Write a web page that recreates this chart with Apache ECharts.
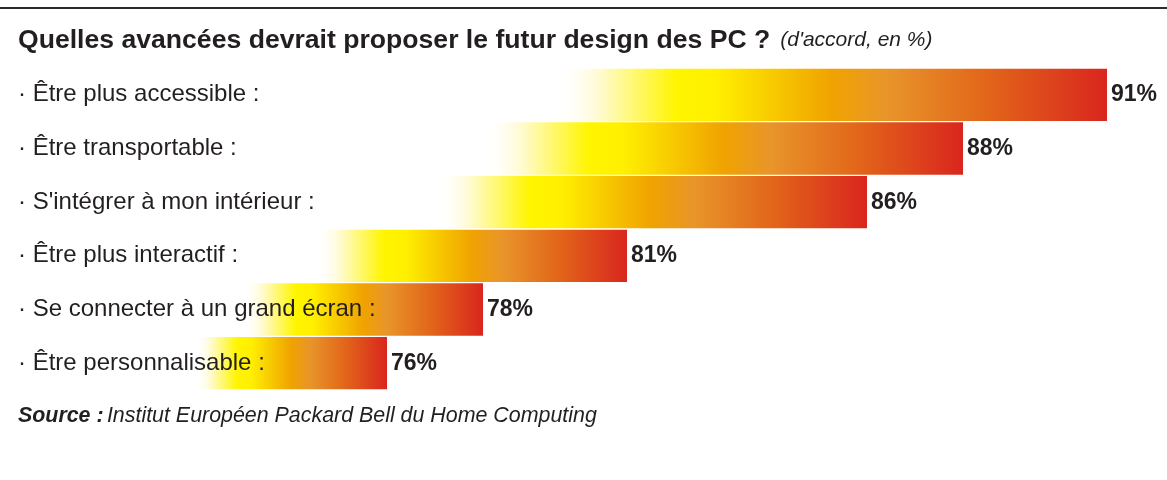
<!DOCTYPE html>
<html>
<head>
<meta charset="utf-8">
<script src="https://cdn.jsdelivr.net/npm/echarts@6/dist/echarts.min.js"></script>
<style>
html, body { margin: 0; padding: 0; background: #fff; }
#chart { width: 1167px; height: 480px; }
</style>
</head>
<body>
<div id="chart"></div>
<script>
// données
var categories = [
    '· Être plus accessible :',
    '· Être transportable :',
    "· S'intégrer à mon intérieur :",
    '· Être plus interactif :',
    '· Se connecter à un grand écran :',
    '· Être personnalisable :'
];
var values = [91, 88, 86, 81, 78, 76];

var titleText = 'Quelles avancées devrait proposer le futur design des PC ?';
var subText = "(d'accord, en %)";
var sourceLabel = 'Source :';
var sourceText = 'Institut Européen Packard Bell du Home Computing';

var fontFam = '"Liberation Sans", Arial, sans-serif';
var ink = '#231f20';

// dégradé blanc -> jaune -> orange -> rouge
var barColor = {
    type: 'linear', x: 0, y: 0, x2: 1, y2: 0,
    colorStops: [
        { offset: 0, color: 'rgba(255,255,255,0)' },
        { offset: 0.5, color: 'rgba(255,255,255,0)' },
        { offset: 0.54, color: '#fffbd0' },
        { offset: 0.61, color: '#fff500' },
        { offset: 0.645, color: '#fff000' },
        { offset: 0.75, color: '#f0a300' },
        { offset: 0.8, color: '#e8952a' },
        { offset: 0.89, color: '#e2661a' },
        { offset: 1, color: '#d9261e' }
    ],
    global: false
};

var xMin = 68;
var xMax = 92;

function renderItem(params, api) {
    var cat = api.value(1);
    var v = api.value(0);
    var start = api.coord([xMin, cat]);
    var end = api.coord([v, cat]);
    var h = api.size([0, 1])[1] - 1.3;
    return {
        type: 'rect',
        shape: {
            x: start[0],
            y: start[1] - h / 2,
            width: end[0] - start[0],
            height: h
        },
        style: { fill: barColor },
        textContent: {
            style: {
                text: v + '%',
                font: 'bold 23px ' + fontFam,
                fill: ink
            }
        },
        textConfig: { position: 'right', distance: 4 }
    };
}

var chart = echarts.init(document.getElementById('chart'));

var option = {
    backgroundColor: '#fff',
    animation: false,
    graphic: [
        {
            type: 'line',
            shape: { x1: 0, y1: 8, x2: 1167, y2: 8 },
            style: { stroke: '#2b2b2b', lineWidth: 2 }
        },
        {
            type: 'text',
            left: 18,
            top: 27,
            style: {
                text: '{b|' + titleText + '}{i|' + subText + '}',
                rich: {
                    b: { fontFamily: fontFam, fontWeight: 'bold', fontSize: 26.6, fill: ink },
                    i: { fontFamily: fontFam, fontStyle: 'italic', fontWeight: 'normal', fontSize: 21, fill: ink, padding: [0, 0, 0, 10] }
                }
            }
        },
        {
            type: 'text',
            left: 18,
            top: 406,
            style: {
                text: '{b|' + sourceLabel + '} {i|' + sourceText + '}',
                rich: {
                    b: { fontFamily: fontFam, fontWeight: 'bold', fontStyle: 'italic', fontSize: 21.4, fill: ink },
                    i: { fontFamily: fontFam, fontStyle: 'italic', fontWeight: 'normal', fontSize: 21.4, fill: ink }
                }
            }
        }
    ],
    grid: { left: 3, right: 12, top: 68, height: 322 },
    xAxis: {
        type: 'value',
        min: xMin,
        max: xMax,
        show: false
    },
    yAxis: {
        type: 'category',
        data: categories,
        inverse: true,
        z: 10,
        axisLine: { show: false },
        axisTick: { show: false },
        splitLine: { show: false },
        axisLabel: {
            inside: true,
            margin: 15,
            fontFamily: fontFam,
            fontSize: 24,
            color: ink
        }
    },
    series: [{
        type: 'custom',
        renderItem: renderItem,
        encode: { x: 0, y: 1 },
        data: values.map(function (v, i) { return [v, i]; }),
        z: 2
    }]
};

chart.setOption(option);
</script>
</body>
</html>
